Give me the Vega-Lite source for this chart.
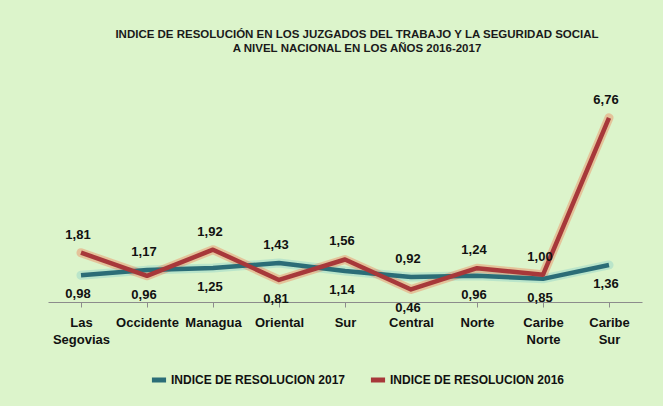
{
  "$schema": "https://vega.github.io/schema/vega-lite/v6.json",
  "width": 594,
  "height": 218,
  "autosize": {"type": "none"},
  "padding": {"left": 48, "top": 84, "right": 21, "bottom": 104},
  "background": "#dcf4cb",
  "config": {
    "font": "Liberation Sans",
    "view": {"stroke": null},
    "locale": {
      "number": {"decimal": ",", "thousands": ".", "grouping": [3], "currency": ["", ""]}
    }
  },
  "title": {
    "text": ["INDICE DE RESOLUCIÓN  EN LOS JUZGADOS DEL TRABAJO Y LA SEGURIDAD SOCIAL", "A NIVEL NACIONAL   EN LOS AÑOS 2016-2017"],
    "fontSize": 11.5,
    "fontWeight": "bold",
    "color": "#1a1a1a",
    "lineHeight": 14,
    "anchor": "middle",
    "dx": 12,
    "offset": 30
  },
  "data": {
    "values": [
      {"region": "Las Segovias", "serie": "INDICE DE RESOLUCION 2017", "value": 0.98},
      {"region": "Occidente", "serie": "INDICE DE RESOLUCION 2017", "value": 1.17},
      {"region": "Managua", "serie": "INDICE DE RESOLUCION 2017", "value": 1.25},
      {"region": "Oriental", "serie": "INDICE DE RESOLUCION 2017", "value": 1.43},
      {"region": "Sur", "serie": "INDICE DE RESOLUCION 2017", "value": 1.14},
      {"region": "Central", "serie": "INDICE DE RESOLUCION 2017", "value": 0.92},
      {"region": "Norte", "serie": "INDICE DE RESOLUCION 2017", "value": 0.96},
      {"region": "Caribe Norte", "serie": "INDICE DE RESOLUCION 2017", "value": 0.85},
      {"region": "Caribe Sur", "serie": "INDICE DE RESOLUCION 2017", "value": 1.36},
      {"region": "Las Segovias", "serie": "INDICE DE RESOLUCION 2016", "value": 1.81},
      {"region": "Occidente", "serie": "INDICE DE RESOLUCION 2016", "value": 0.96},
      {"region": "Managua", "serie": "INDICE DE RESOLUCION 2016", "value": 1.92},
      {"region": "Oriental", "serie": "INDICE DE RESOLUCION 2016", "value": 0.81},
      {"region": "Sur", "serie": "INDICE DE RESOLUCION 2016", "value": 1.56},
      {"region": "Central", "serie": "INDICE DE RESOLUCION 2016", "value": 0.46},
      {"region": "Norte", "serie": "INDICE DE RESOLUCION 2016", "value": 1.24},
      {"region": "Caribe Norte", "serie": "INDICE DE RESOLUCION 2016", "value": 1.0},
      {"region": "Caribe Sur", "serie": "INDICE DE RESOLUCION 2016", "value": 6.76}
    ]
  },
  "encoding": {
    "x": {
      "field": "region",
      "type": "nominal",
      "sort": null,
      "scale": {"paddingInner": 0, "paddingOuter": 0},
      "axis": {
        "title": null,
        "labelAngle": 0,
        "labelExpr": "split(datum.label, ' ')",
        "labelFontSize": 13,
        "labelFontWeight": "bold",
        "labelColor": "#111111",
        "labelLineHeight": 17,
        "labelPadding": 9,
        "tickSize": 5,
        "tickColor": "#8c8c8c",
        "domainColor": "#8c8c8c",
        "bandPosition": 0,
        "grid": false
      }
    },
    "y": {
      "field": "value",
      "type": "quantitative",
      "scale": {"domain": [0, 8], "nice": false},
      "axis": null
    }
  },
  "layer": [
    {
      "mark": {"type": "line", "strokeWidth": 9, "opacity": 0.4, "strokeCap": "round", "strokeJoin": "round"},
      "encoding": {
        "stroke": {
          "field": "serie",
          "type": "nominal",
          "scale": {"domain": ["INDICE DE RESOLUCION 2017", "INDICE DE RESOLUCION 2016"], "range": ["#86cfc8", "#f07a50"]},
          "legend": null
        },
        "detail": {"field": "serie"}
      }
    },
    {
      "mark": {"type": "line", "strokeWidth": 4.5, "strokeJoin": "round"},
      "encoding": {
        "color": {
          "field": "serie",
          "type": "nominal",
          "scale": {"domain": ["INDICE DE RESOLUCION 2017", "INDICE DE RESOLUCION 2016"], "range": ["#2b6d77", "#a7383a"]},
          "legend": {
            "title": null,
            "orient": "none",
            "direction": "horizontal",
            "legendX": 101,
            "legendY": 286,
            "symbolType": "stroke",
            "symbolStrokeWidth": 5,
            "symbolSize": 200,
            "labelFontSize": 12,
            "labelFontWeight": "bold",
            "labelColor": "#111111",
            "labelOffset": 2,
            "labelLimit": 0,
            "columnPadding": 14
          }
        }
      }
    },
    {
      "transform": [
        {"joinaggregate": [{"op": "max", "field": "value", "as": "mx"}], "groupby": ["region"]},
        {"filter": "datum.value == datum.mx"}
      ],
      "mark": {"type": "text", "dy": -18, "dx": -3, "fontSize": 13, "fontWeight": "bold", "color": "#111111"},
      "encoding": {"text": {"field": "value", "type": "quantitative", "format": ".2f"}}
    },
    {
      "transform": [
        {"joinaggregate": [{"op": "max", "field": "value", "as": "mx"}], "groupby": ["region"]},
        {"filter": "datum.value != datum.mx"}
      ],
      "mark": {"type": "text", "dy": 19, "dx": -3, "fontSize": 13, "fontWeight": "bold", "color": "#111111"},
      "encoding": {"text": {"field": "value", "type": "quantitative", "format": ".2f"}}
    }
  ],
  "resolve": {"scale": {"color": "independent"}}
}
